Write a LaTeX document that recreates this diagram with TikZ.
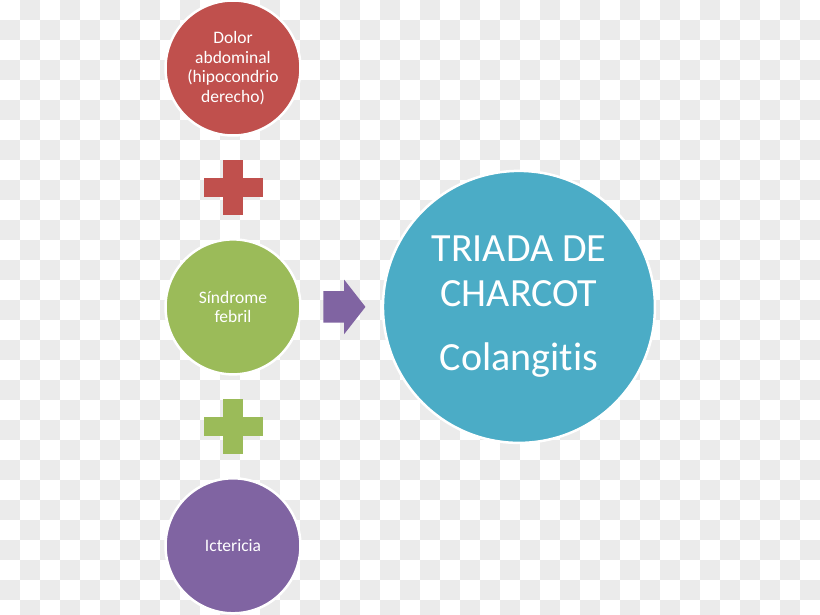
\documentclass[tikz,border=0pt]{standalone}
\usepackage{fontspec}
\setmainfont[Ligatures=NoCommon]{Carlito}
\usetikzlibrary{positioning,shapes.arrows}

\definecolor{dolorred}{HTML}{C0504D}
\definecolor{fiebregreen}{HTML}{9BBB59}
\definecolor{ictpurple}{HTML}{8064A2}
\definecolor{charcotblue}{HTML}{4BACC6}
\definecolor{checkgray}{HTML}{EBEBEB}

\begin{document}
\begin{tikzpicture}[x=1pt, y=-1pt, node distance=23pt]
    \tikzstyle{bubble}=[circle, minimum size=135pt, inner sep=0pt, draw=white, line width=2.5pt, text=white, align=center, font=\fontsize{17.5}{19.5}\selectfont]
    \tikzstyle{bigbubble}=[bubble, minimum size=272pt, font=\fontsize{40}{45}\selectfont]
    \tikzstyle{barh}=[rectangle, minimum width=59pt, minimum height=19.5pt, inner sep=0pt]
    \tikzstyle{barv}=[rectangle, minimum width=19.5pt, minimum height=55pt, inner sep=0pt]
    \tikzstyle{connect}=[single arrow, fill=ictpurple, inner xsep=0pt, inner ysep=15.5pt, minimum height=42pt, single arrow head extend=11.5pt, single arrow tip angle=104]

    % checkered background
    \useasboundingbox (0,0) rectangle (820,615);
    \fill[white] (0,0) rectangle (820,615);
    \foreach \x in {0,40,...,800}
      \foreach \y in {0,40,...,600}
        {\fill[checkgray] (\x+20,\y) rectangle +(20,20);
         \fill[checkgray] (\x,\y+20) rectangle +(20,20);}

      \node[bubble, fill=dolorred] (dolor) at (233,68) {Dolor\\abdominal\\(hipocondrio\\derecho)};
      \node[barv, fill=dolorred] (plusa) [below=of dolor] {};
      \node[barh, fill=dolorred] (plusah) at (plusa) {};
      \node[bubble, fill=fiebregreen] (fiebre) [below=of plusa] {Síndrome\\febril};
      \node[barv, fill=fiebregreen] (plusb) [below=of fiebre] {};
      \node[barh, fill=fiebregreen] (plusbh) at (plusb) {};
      \node[bubble, fill=ictpurple] (icter) [below=of plusb] {Ictericia};
      \node[connect] (flecha) [right=21.5pt of fiebre] {};
      \node[bigbubble, fill=charcotblue] (triada) [right=16pt of flecha] {TRIADA DE\\CHARCOT\\[19pt]Colangitis};
\end{tikzpicture}
\end{document}
